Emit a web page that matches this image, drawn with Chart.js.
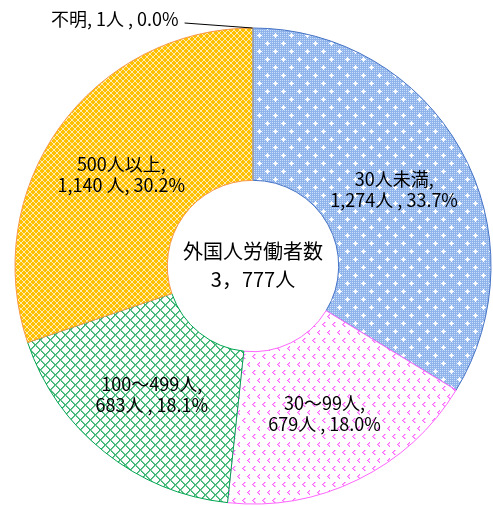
<!DOCTYPE html>
<html><head><meta charset="utf-8">
<script src="https://cdn.jsdelivr.net/npm/chart.js@4.4.1/dist/chart.umd.min.js"></script>
<style>html,body{margin:0;padding:0;background:#fff;}</style>
</head><body>
<canvas id="c" width="493" height="506"></canvas>
<script>
const categories = ['30人未満', '30～99人', '100～499人', '500人以上', '不明'];
const workers = [1274, 679, 683, 1140, 1];
const valueLabels = ['1,274人 , 33.7%', '679人 , 18.0%', '683人 , 18.1%', '1,140 人, 30.2%', '1人 , 0.0%'];
const centerTitle = '外国人労働者数';
const centerTotal = '3，777人';

function tile(w, h, draw) {
  const c = document.createElement('canvas');
  c.width = w; c.height = h;
  const x = c.getContext('2d');
  draw(x);
  return document.getElementById('c').getContext('2d').createPattern(c, 'repeat');
}
function px(x, col, a, b, w, h) { x.fillStyle = col; x.fillRect(a, b, w || 1, h || 1); }

const bluePat = tile(16, 16, x => {
  px(x, '#8fb4ec', 0, 0, 16, 16);
  for (let i = 0; i < 16; i += 2) for (let j = 0; j < 16; j += 2) px(x, '#c9ddf8', i, j, 1, 1);
  [[3, 3], [11, 11]].forEach(([cx, cy]) => {
    px(x, '#ffffff', cx - 2, cy, 5, 1);
    px(x, '#ffffff', cx, cy - 2, 1, 5);
    px(x, '#eef4fc', cx - 1, cy - 1, 3, 3);
    px(x, '#ffffff', cx, cy - 1, 1, 3);
    px(x, '#ffffff', cx - 1, cy, 3, 1);
  });
});
const pinkPat = tile(10, 16, x => {
  px(x, '#ffffff', 0, 0, 10, 16);
  [[2, 2], [7, 10]].forEach(([a, b]) => {
    const c = '#ff66ff', d = '#ffaaff';
    px(x, c, a + 2, b); px(x, c, a + 1, b + 1); px(x, c, a, b + 2); px(x, c, a + 1, b + 3); px(x, c, a + 2, b + 4);
    px(x, d, a + 3, b); px(x, d, a + 2, b + 1); px(x, d, a + 1, b + 2); px(x, d, a + 2, b + 3); px(x, d, a + 3, b + 4);
  });
});
const greenPat = tile(10, 10, x => {
  px(x, '#ffffff', 0, 0, 10, 10);
  for (let i = 0; i < 10; i++) {
    px(x, '#35b06c', i, i);
    px(x, '#6fcb98', (i + 1) % 10, i);
    px(x, '#35b06c', 9 - i, i);
    px(x, '#6fcb98', (10 - i) % 10, i);
  }
});
const orangePat = tile(6, 6, x => {
  px(x, '#ffc000', 0, 0, 6, 6);
  for (let i = 0; i < 6; i++) {
    px(x, 'rgba(255,255,255,0.7)', i, i);
    px(x, 'rgba(255,255,255,0.7)', 5 - i, i);
  }
});

const fills = [bluePat, pinkPat, greenPat, orangePat, '#bfbfbf'];
const borders = ['#4472c4', '#ff66ff', '#00a550', '#f79646', '#a5a5a5'];

const labelPlugin = {
  id: 'labels',
  afterDatasetsDraw(chart) {
    const ctx = chart.ctx;
    const meta = chart.getDatasetMeta(0);
    ctx.save();
    ctx.fillStyle = '#000';
    ctx.textBaseline = 'middle';
    ctx.font = '18px "Noto Sans CJK JP", sans-serif';
    meta.data.forEach((arc, i) => {
      if (i === categories.length - 1) {
        const p = arc.getProps(['x', 'y', 'startAngle', 'outerRadius'], true);
        const ax = p.x + p.outerRadius * Math.cos(p.startAngle);
        const ay = p.y + p.outerRadius * Math.sin(p.startAngle);
        ctx.strokeStyle = '#000'; ctx.lineWidth = 1;
        ctx.beginPath(); ctx.moveTo(ax - 68, ay - 5); ctx.lineTo(ax, ay); ctx.stroke();
        ctx.textAlign = 'right';
        ctx.fillText(categories[i] + ', ' + valueLabels[i], ax - 74, ay - 9);
        return;
      }
      const t = arc.tooltipPosition(true);
      ctx.textAlign = 'center';
      ctx.fillText(categories[i] + ',', t.x, t.y - 8);
      ctx.fillText(valueLabels[i], t.x, t.y + 13);
    });
    const c = meta.data[0];
    ctx.textAlign = 'center';
    ctx.font = '20px "Noto Sans CJK JP", sans-serif';
    ctx.fillText(centerTitle, c.x, c.y - 15);
    ctx.fillText(centerTotal, c.x, c.y + 13);
    ctx.restore();
  }
};

new Chart(document.getElementById('c'), {
  type: 'doughnut',
  data: {
    labels: categories,
    datasets: [{
      data: workers,
      backgroundColor: fills,
      borderColor: borders,
      borderWidth: 1,
      radius: 238,
      cutout: '36%'
    }]
  },
  options: {
    responsive: false,
    animation: false,
    layout: { padding: { left: 15, right: 2, top: 28, bottom: 2 } },
    plugins: { legend: { display: false }, tooltip: { enabled: false } }
  },
  plugins: [labelPlugin]
});
</script>
</body></html>
